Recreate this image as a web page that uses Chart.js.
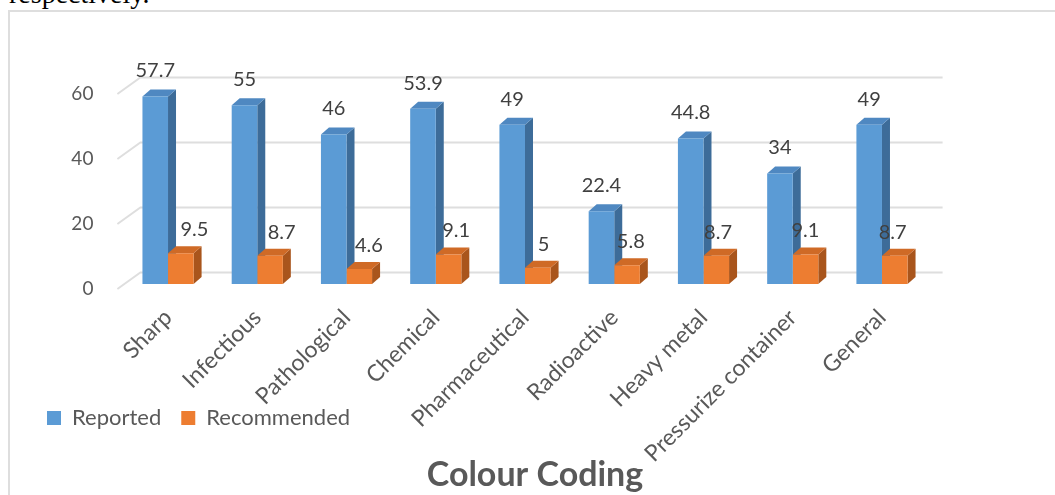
<!DOCTYPE html>
<html>
<head>
<meta charset="utf-8">
<title>Colour Coding</title>
<script src="https://cdn.jsdelivr.net/npm/chart.js@4.4.1/dist/chart.umd.min.js"></script>
<style>
    html, body { margin: 0; padding: 0; background: #fff; overflow: hidden; }
    body { width: 1055px; height: 495px; position: relative; }
    #intro { position: absolute; left: 9px; top: -20px; font: 28px/28px "Liberation Serif", serif; color: #000; white-space: nowrap; }
    #frame { position: absolute; left: 8px; top: 10px; width: 1060px; height: 500px; border: 2px solid #dedede; box-sizing: border-box; }
    #chart { position: absolute; left: 0; top: 0; }
</style>
</head>
<body>
<div id="intro">respectively.</div>
<div id="frame"></div>
<canvas id="chart" width="1055" height="495"></canvas>
<script>
var categories = ['Sharp', 'Infectious', 'Pathological', 'Chemical', 'Pharmaceutical', 'Radioactive', 'Heavy metal', 'Pressurize container', 'General'];
var reported = [57.7, 55, 46, 53.9, 49, 22.4, 44.8, 34, 49];
var recommended = [9.5, 8.7, 4.6, 9.1, 5, 5.8, 8.7, 9.1, 8.7];
var yTicks = [0, 20, 40, 60];

var textColor = '#595959',
    labelColor = '#404040',
    gridColor = '#dedede';

// front / side / top colours of the 3D columns
var shades = [
    {front: '#5b9bd5', side: '#3d6c99', top: '#4f88c1'},
    {front: '#ed7d31', side: '#a9551c', top: '#cf6a26'}
];

var barDepth = {x: 8, y: 7},       // depth of a column
    floorDepth = {x: 23, y: 16.5}, // floor front edge to back wall
    floorFront = {x: -6, y: 5};    // floor front edge relative to the column baseline

/**
 * Back wall gridlines and 3D faces of the columns, drawn under the front faces.
 */
var depthPlugin = {
    id: 'depth3d',

    // category labels run down over the legend, so let them draw below the axis box
    afterLayout: function(chart) {
        chart.scales.x.bottom = chart.height;
    },

    beforeDatasetsDraw: function(chart) {
        var ctx = chart.ctx,
            area = chart.chartArea,
            yScale = chart.scales.y;

        ctx.save();
        ctx.strokeStyle = gridColor;
        ctx.lineWidth = 2;
        yTicks.forEach(function(value) {
            var fx = area.left + floorFront.x,
                fy = yScale.getPixelForValue(value) + floorFront.y,
                bx = fx + floorDepth.x,
                by = fy - floorDepth.y;

            ctx.beginPath();
            ctx.moveTo(fx, fy);
            ctx.lineTo(bx, by);
            ctx.lineTo(area.right + 16, by);
            ctx.stroke();
        });

        chart.data.datasets.forEach(function(dataset, i) {
            var meta = chart.getDatasetMeta(i);
            meta.data.forEach(function(bar) {
                var left = bar.x - bar.width / 2,
                    right = bar.x + bar.width / 2;

                // side face
                ctx.fillStyle = shades[i].side;
                ctx.beginPath();
                ctx.moveTo(right, bar.y);
                ctx.lineTo(right + barDepth.x, bar.y - barDepth.y);
                ctx.lineTo(right + barDepth.x, bar.base - barDepth.y);
                ctx.lineTo(right, bar.base);
                ctx.closePath();
                ctx.fill();

                // top face
                ctx.fillStyle = shades[i].top;
                ctx.beginPath();
                ctx.moveTo(left, bar.y);
                ctx.lineTo(left + barDepth.x, bar.y - barDepth.y);
                ctx.lineTo(right + barDepth.x, bar.y - barDepth.y);
                ctx.lineTo(right, bar.y);
                ctx.closePath();
                ctx.fill();
            });
        });
        ctx.restore();
    },

    afterDatasetsDraw: function(chart) {
        var ctx = chart.ctx,
            area = chart.chartArea,
            middle = (area.left + area.right) / 2;

        ctx.save();
        ctx.font = '20px Lato';
        ctx.fillStyle = labelColor;
        ctx.textAlign = 'center';
        ctx.textBaseline = 'middle';
        chart.data.datasets.forEach(function(dataset, i) {
            chart.getDatasetMeta(i).data.forEach(function(bar, j) {
                // labels of the back series drift with the perspective
                var dx = i === 0 ? 0 : 6 + (middle - bar.x) * 0.022,
                    dy = i === 0 ? 25.5 : 23.5;
                ctx.fillText(String(dataset.data[j]), bar.x + dx, bar.y - dy);
            });
        });
        ctx.restore();
    }
};

new Chart(document.getElementById('chart').getContext('2d'), {
    type: 'bar',
    data: {
        labels: categories,
        datasets: [{
            label: 'Reported',
            data: reported,
            backgroundColor: shades[0].front,
            borderWidth: 0
        }, {
            label: 'Recommended',
            data: recommended,
            backgroundColor: shades[1].front,
            borderWidth: 0
        }]
    },
    options: {
        responsive: false,
        animation: false,
        devicePixelRatio: 1,
        layout: {
            padding: {left: 27, right: 12, top: 89, bottom: 0}
        },
        datasets: {
            bar: {barPercentage: 1, categoryPercentage: 0.573}
        },
        scales: {
            x: {
                grid: {display: false, drawTicks: false},
                border: {display: false},
                ticks: {
                    autoSkip: false,
                    minRotation: 45,
                    maxRotation: 45,
                    padding: 20,
                    color: textColor,
                    font: {family: 'Lato', size: 23}
                },
                afterFit: function(scale) { scale.height = 103; }
            },
            y: {
                min: 0,
                max: 60,
                afterBuildTicks: function(scale) {
                    scale.ticks = yTicks.map(function(v) { return {value: v}; });
                },
                grid: {display: false, drawTicks: false},
                border: {display: false},
                ticks: {padding: 30, labelOffset: 5, color: textColor, font: {family: 'Lato', size: 19}},
                afterFit: function(scale) { scale.width = 96.4; }
            },
            // empty axis that only reserves the space right of the plot
            spacer: {
                position: 'right',
                grid: {display: false, drawTicks: false},
                border: {display: false},
                ticks: {display: false},
                afterFit: function(scale) { scale.width = 116.4; }
            }
        },
        plugins: {
            legend: {
                position: 'bottom',
                align: 'start',
                labels: {
                    boxWidth: 14,
                    boxHeight: 14,
                    padding: 20,
                    color: textColor,
                    font: {family: 'Lato', size: 22}
                }
            },
            title: {
                display: true,
                position: 'bottom',
                text: 'Colour Coding',
                color: textColor,
                font: {family: 'Lato', size: 34, weight: 'bold'},
                padding: {top: 15.2, bottom: 0}
            },
            tooltip: {enabled: false}
        }
    },
    plugins: [depthPlugin]
});
</script>
</body>
</html>
